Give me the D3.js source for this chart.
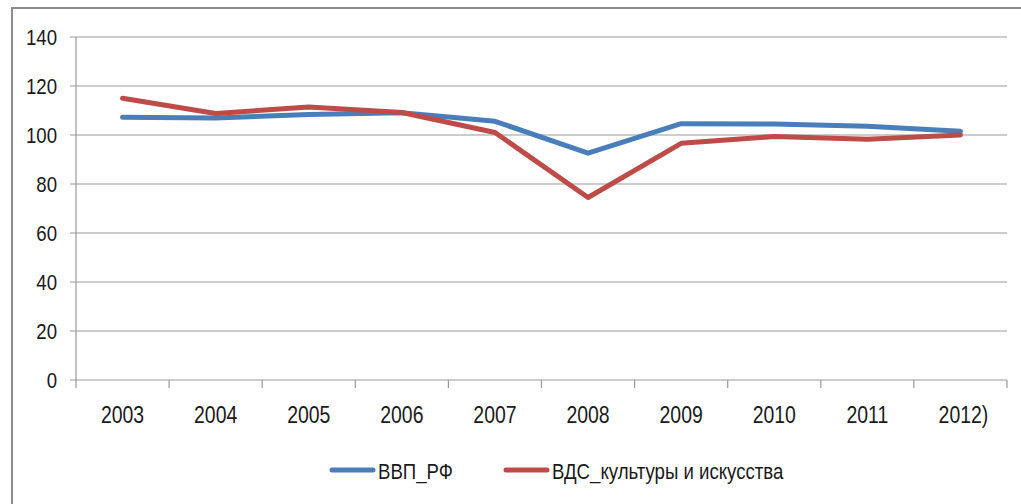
<!DOCTYPE html>
<html lang="ru">
<head>
<meta charset="UTF-8">
<title>ВВП и ВДС</title>
<script src="https://d3js.org/d3.v7.min.js"></script>
<style>
	body { margin: 0; background: #fff; }
	svg text { font-family: "Liberation Sans", Arial, sans-serif; fill: #1a1a1a; }
</style>
</head>
<body>
<svg id="chart" width="1021" height="504"></svg>
<script>
// данные
const years = ['2003', '2004', '2005', '2006', '2007', '2008', '2009', '2010', '2011', '2012)'];
const vvp = [107.2, 106.9, 108.4, 109.1, 105.6, 92.6, 104.6, 104.5, 103.6, 101.5];
const vds = [115.0, 108.8, 111.4, 109.2, 101.0, 74.5, 96.6, 99.4, 98.3, 100.0];
const yTicks = [0, 20, 40, 60, 80, 100, 120, 140];
const seriesNames = ['ВВП_РФ', 'ВДС_культуры и искусства'];
const colors = ['#4a7ebb', '#be4b48'];

const svg = d3.select('#chart');

// узкий шрифт: сжимаем текст по горизонтали
const sx = 0.81;
const squeeze = (px, py) => `translate(${px},${py}) scale(${sx},1)`;

// рамка (видны только верх и левый край)
svg.append('path')
	.attr('d', 'M12,504V8H1021')
	.attr('fill', 'none')
	.attr('stroke', '#8c8c8c')
	.attr('stroke-width', 2);

const plotL = 76, plotR = 1007, plotT = 37, plotB = 380;

const x = d3.scaleBand().domain(years).range([plotL, plotR]);
const y = d3.scaleLinear().domain([0, 140]).range([plotB, plotT]);

// сетка
svg.append('g')
	.selectAll('line')
	.data(yTicks)
	.join('line')
	.attr('x1', plotL - 6)
	.attr('x2', plotR)
	.attr('y1', d => y(d))
	.attr('y2', d => y(d))
	.attr('stroke', '#999')
	.attr('stroke-width', 1.2);

// ось Y
svg.append('line')
	.attr('x1', plotL).attr('x2', plotL)
	.attr('y1', plotT).attr('y2', plotB)
	.attr('stroke', '#999').attr('stroke-width', 1.2);

svg.append('g')
	.selectAll('text')
	.data(yTicks)
	.join('text')
	.attr('transform', d => squeeze(57, y(d)))
	.attr('dy', '0.35em')
	.attr('text-anchor', 'end')
	.attr('font-size', 23)
	.text(d => d);

// ось X
const xTickPos = years.map(d => x(d)).concat([plotR]);
svg.append('g')
	.selectAll('line')
	.data(xTickPos)
	.join('line')
	.attr('x1', d => d).attr('x2', d => d)
	.attr('y1', plotB).attr('y2', plotB + 8)
	.attr('stroke', '#999').attr('stroke-width', 1.2);

svg.append('g')
	.selectAll('text')
	.data(years)
	.join('text')
	.attr('transform', d => squeeze(x(d) + x.bandwidth() / 2 + (d.endsWith(')') ? 3 : 0), 423))
	.attr('text-anchor', 'middle')
	.attr('font-size', 24)
	.text(d => d);

// линии
const line = d3.line()
	.x((d, i) => x(years[i]) + x.bandwidth() / 2)
	.y(d => y(d));

[vvp, vds].forEach((s, k) => {
	svg.append('path')
		.datum(s)
		.attr('d', line)
		.attr('fill', 'none')
		.attr('stroke', colors[k])
		.attr('stroke-width', 5)
		.attr('stroke-linejoin', 'round')
		.attr('stroke-linecap', 'round');
});

// легенда
const legendX = [332, 506];
seriesNames.forEach((name, k) => {
	const g = svg.append('g').attr('transform', `translate(${legendX[k]},470)`);
	g.append('line')
		.attr('x1', 0).attr('x2', 41)
		.attr('stroke', colors[k])
		.attr('stroke-width', 5)
		.attr('stroke-linecap', 'round');
	g.append('text')
		.attr('transform', squeeze(46, 9))
		.attr('font-size', 23)
		.text(name);
});
</script>
</body>
</html>
